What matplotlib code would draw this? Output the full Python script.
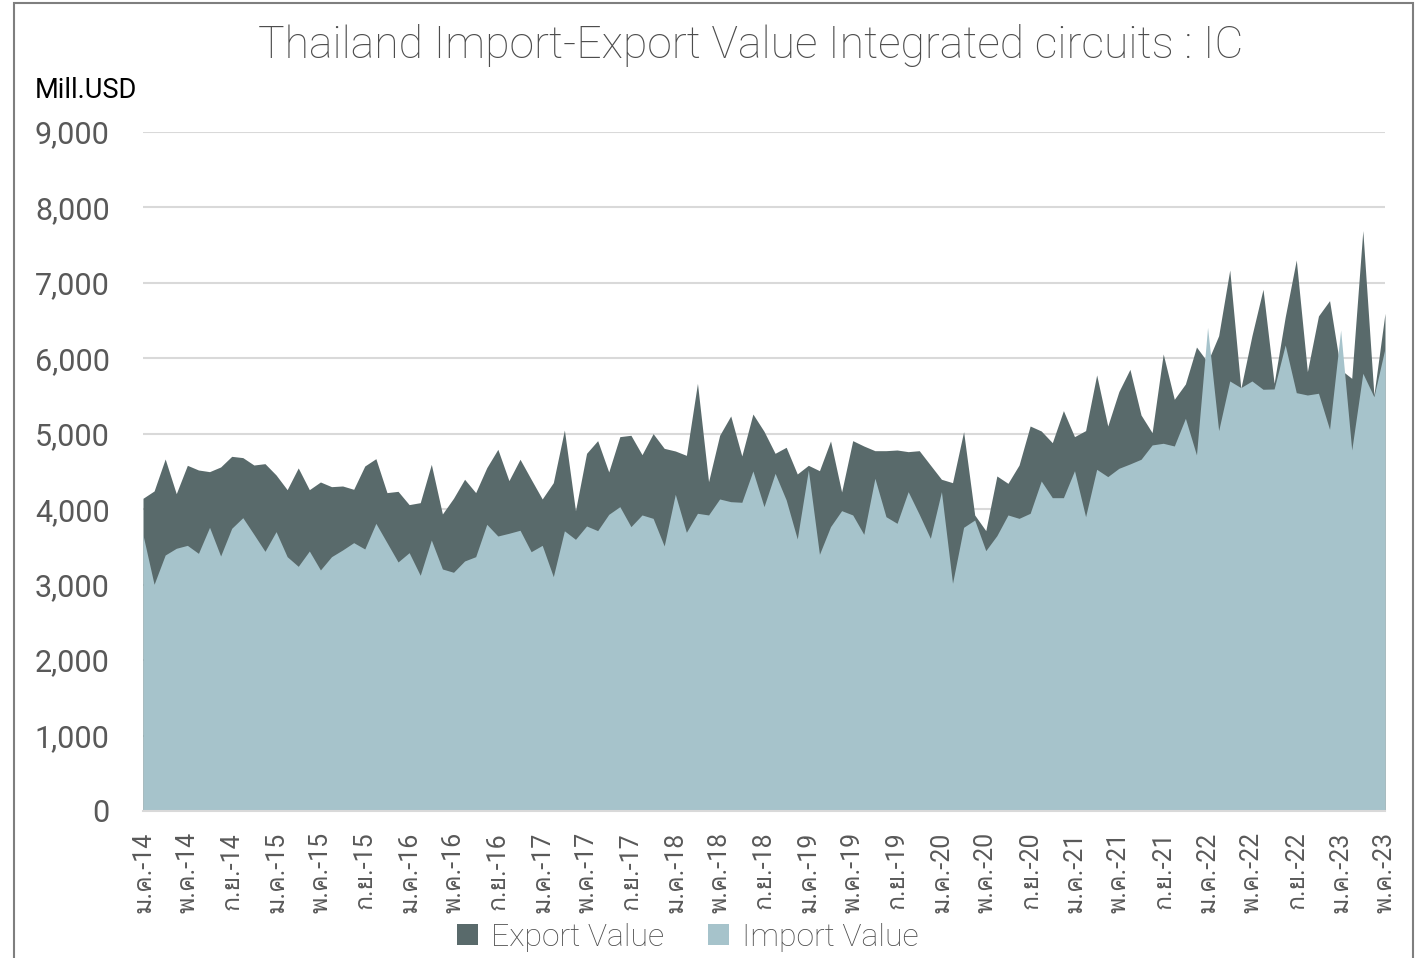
import numpy as np
import matplotlib
matplotlib.use("Agg")
import matplotlib.pyplot as plt
from matplotlib import font_manager
from matplotlib.patches import Patch, Rectangle
from matplotlib.ticker import FuncFormatter

# ---------------- data (Mill. USD, monthly Jan-2014 .. May-2023) ----------------
export_value = [
    4145, 4242, 4666, 4206, 4582, 4520, 4498, 4560, 4701, 4684, 4586, 4604,
    4454, 4259, 4547, 4259, 4361, 4299, 4308, 4264, 4573, 4670, 4220, 4237,
    4061, 4087, 4595, 3937, 4145, 4397, 4220, 4551, 4794, 4379, 4662, 4397,
    4136, 4352, 5050, 3981, 4741, 4909, 4494, 4962, 4980, 4723, 5002, 4807,
    4772, 4714, 5669, 4365, 4980, 5236, 4706, 5262, 5033, 4741, 4821, 4467,
    4582, 4511, 4905, 4229, 4909, 4838, 4776, 4776, 4785, 4763, 4776, 4586,
    4397, 4352, 5028, 3924, 3716, 4441, 4343, 4586, 5103, 5037, 4882, 5307,
    4962, 5042, 5780, 5103, 5559, 5854, 5249, 5015, 6058, 5457, 5660, 6150,
    5950, 6300, 7171, 5600, 6300, 6915, 5669, 6548, 7304, 5824, 6562, 6765,
    5850, 5735, 7693, 5514, 6597,
]
import_value = [
    3659, 3005, 3393, 3482, 3521, 3415, 3760, 3380, 3747, 3888, 3667, 3442,
    3703, 3371, 3243, 3446, 3195, 3371, 3460, 3557, 3473, 3813, 3557, 3301,
    3424, 3124, 3592, 3208, 3164, 3314, 3371, 3800, 3645, 3681, 3721, 3437,
    3521, 3106, 3714, 3601, 3778, 3716, 3932, 4034, 3769, 3924, 3879, 3513,
    4198, 3694, 3946, 3924, 4136, 4100, 4092, 4507, 4034, 4476, 4123, 3606,
    4520, 3402, 3769, 3981, 3924, 3667, 4410, 3901, 3813, 4233, 3932, 3614,
    4233, 3018, 3760, 3857, 3451, 3650, 3924, 3879, 3946, 4374, 4153, 4153,
    4511, 3901, 4529, 4432, 4542, 4600, 4662, 4852, 4874, 4838, 5205, 4720,
    6411, 5042, 5700, 5612, 5700, 5590, 5594, 6177, 5545, 5514, 5537, 5059,
    6376, 4785, 5802, 5492, 6133,
]
tick_labels = [
    "ม.ค.-14", "พ.ค.-14", "ก.ย.-14",
    "ม.ค.-15", "พ.ค.-15", "ก.ย.-15",
    "ม.ค.-16", "พ.ค.-16", "ก.ย.-16",
    "ม.ค.-17", "พ.ค.-17", "ก.ย.-17",
    "ม.ค.-18", "พ.ค.-18", "ก.ย.-18",
    "ม.ค.-19", "พ.ค.-19", "ก.ย.-19",
    "ม.ค.-20", "พ.ค.-20", "ก.ย.-20",
    "ม.ค.-21", "พ.ค.-21", "ก.ย.-21",
    "ม.ค.-22", "พ.ค.-22", "ก.ย.-22",
    "ม.ค.-23", "พ.ค.-23",
]
series_names = ["Export Value", "Import Value"]
title = "Thailand Import-Export Value Integrated circuits : IC"
unit_label = "Mill.USD"

# ---------------- fonts ----------------
def find_thai_font():
    try:
        from matplotlib.ft2font import FT2Font
    except Exception:
        return None
    for fe in font_manager.fontManager.ttflist:
        try:
            cm = FT2Font(fe.fname).get_charmap()
            if 0x0E21 in cm and 0x0E04 in cm:
                return fe.name
        except Exception:
            continue
    return None

thai = find_thai_font()
fams = ["Roboto"] + ([thai] if thai else []) + ["DejaVu Sans"]
plt.rcParams["font.family"] = fams

text_color = "#595959"
light_text_color = "#4d4d4d"
export_color = "#596a6b"
import_color = "#a6c3cb"
grid_color = "#d9d9d9"

fig = plt.figure(figsize=(14.24, 9.58), dpi=100)
ax = fig.add_axes([143 / 1424, 1 - 811 / 958, (1385 - 143) / 1424, (811 - 132) / 958])

x = np.arange(len(export_value))
ax.fill_between(x, 0, export_value, color=export_color, linewidth=0, zorder=2)
ax.fill_between(x, 0, import_value, color=import_color, linewidth=0, zorder=3)

ax.set_xlim(0, len(export_value) - 1)
ax.set_ylim(0, 9000)
ax.set_yticks(np.arange(0, 9001, 1000))
ax.yaxis.set_major_formatter(FuncFormatter(lambda v, p: f"{int(v):,}"))
ax.grid(axis="y", color=grid_color, linewidth=1.5, zorder=0)
ax.set_axisbelow(True)
for s in ["top", "right", "left"]:
    ax.spines[s].set_visible(False)
ax.spines["bottom"].set_color(grid_color)
ax.spines["bottom"].set_linewidth(1.5)
ax.spines["bottom"].set_zorder(4)

ax.set_xticks(x[::4])
ax.set_xticklabels(tick_labels, rotation=90, ha="center", va="top")
ax.tick_params(axis="x", length=0, pad=15, labelsize=18, labelcolor=text_color)
ax.tick_params(axis="y", length=0, pad=24, labelsize=22, labelcolor=text_color)

fig.text(0.527, 0.953, title, ha="center", va="center", fontsize=32,
         fontweight="light", color=light_text_color)
fig.text(35 / 1424, 1 - 90 / 958, unit_label, ha="left", va="center", fontsize=19.5,
         color="#000000")

handles = [Patch(facecolor=export_color, edgecolor="none"),
           Patch(facecolor=import_color, edgecolor="none")]
fig.legend(handles, series_names, loc="center", bbox_to_anchor=(0.483, 1 - 937 / 958),
           ncol=2, frameon=False, handlelength=0.65, handleheight=0.65,
           handletextpad=0.4, columnspacing=1.4, labelcolor=light_text_color,
           prop={"size": 23, "weight": "light"})

fig.patches.append(Rectangle((14 / 1424, -0.01), (1413 - 14) / 1424, 1 - 3 / 958 + 0.01,
                             transform=fig.transFigure, fill=False, edgecolor="#7f7f7f",
                             linewidth=1.5))

fig.savefig("out.png", dpi=100)
